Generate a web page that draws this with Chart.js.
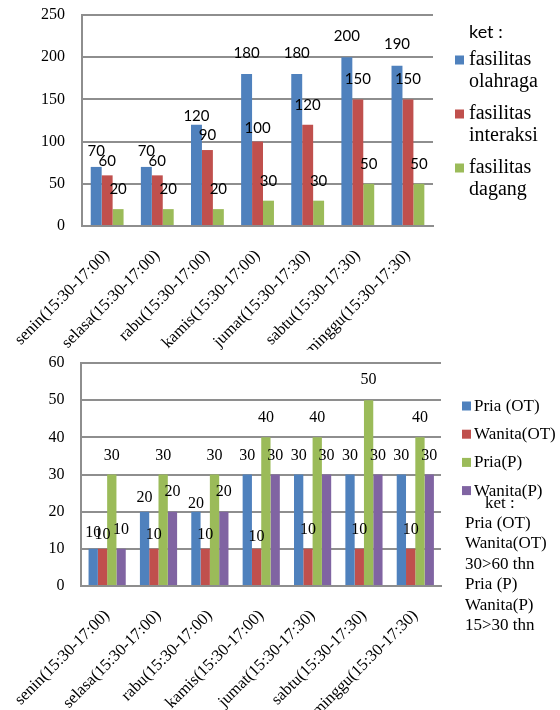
<!DOCTYPE html>
<html>
<head>
<meta charset="utf-8">
<script src="https://cdn.jsdelivr.net/npm/chart.js@4/dist/chart.umd.min.js"></script>
<style>
  html, body { margin: 0; padding: 0; background: #fff; }
  #wrap { position: relative; width: 560px; height: 710px; overflow: hidden; }
  .box { position: absolute; left: 0; width: 560px; }
  #b1 { top: 0; height: 350px; }
  #b2 { top: 350px; height: 360px; }
</style>
</head>
<body>
<div id="wrap">
  <div class="box" id="b1"><canvas id="c1" width="560" height="350"></canvas></div>
  <div class="box" id="b2"><canvas id="c2" width="560" height="360"></canvas></div>
</div>
<script>
// Days observed (same for both charts)
const days = [
  'senin(15:30-17:00)', 'selasa(15:30-17:00)', 'rabu(15:30-17:00)',
  'kamis(15:30-17:00)', 'jumat(15:30-17:30)', 'sabtu(15:30-17:30)',
  'minggu(15:30-17:30)'
];

// Chart 1: use of facilities
const olahraga  = [70, 70, 120, 180, 180, 200, 190];
const interaksi = [60, 60, 90, 100, 120, 150, 150];
const dagang    = [20, 20, 20, 30, 30, 50, 50];
const topTicks  = [0, 50, 100, 150, 200, 250];

// Chart 2: visitors by group
const priaOT    = [10, 20, 20, 30, 30, 30, 30];
const wanitaOT  = [10, 10, 10, 10, 10, 10, 10];
const priaP     = [30, 30, 30, 40, 40, 50, 40];
const wanitaP   = [10, 20, 20, 30, 30, 30, 30];
const bottomTicks = [0, 10, 20, 30, 40, 50, 60];

// Legend texts
const topLegendTitle = 'ket :';
const topLegendItems = [['fasilitas', 'olahraga'], ['fasilitas', 'interaksi'], ['fasilitas', 'dagang']];
const bottomLegendItems = ['Pria (OT)', 'Wanita(OT)', 'Pria(P)', 'Wanita(P)'];
const bottomNoteTitle = 'ket :';
const bottomNoteLines = ['Pria (OT)', 'Wanita(OT)', '30>60 thn', 'Pria (P)', 'Wanita(P)', '15>30 thn'];

const BLUE = '#4F81BD', RED = '#C0504D', GREEN = '#9BBB59', PURPLE = '#8064A2';
const GRID = '#8e8e8e';
const SERIF = '"Liberation Serif", "Times New Roman", serif';
const SANS = 'Lato, "Open Sans", sans-serif';

// How far each value label sits above its bar top (px)
const topLift = [
  [16, 16, 9, 21, 21, 21, 21],
  [14, 14, 15, 13, 20, 20, 20],
  [20, 20, 20, 20, 20, 20, 20]
];
const bottomLift = [
  [16, 14, 8, 19, 19, 19, 19],
  [14, 14, 14, 12, 19, 19, 19],
  [19, 19, 19, 20, 20, 20, 20],
  [19, 20, 20, 19, 19, 19, 19]
];

// Writes each bar's value above it
const valueLabels = {
  id: 'valueLabels',
  afterDatasetsDraw(chart, args, opts) {
    const ctx = chart.ctx;
    ctx.save();
    ctx.font = opts.font;
    ctx.fillStyle = '#000';
    ctx.textAlign = 'center';
    ctx.textBaseline = 'middle';
    chart.data.datasets.forEach((ds, di) => {
      chart.getDatasetMeta(di).data.forEach((bar, i) => {
        ctx.fillText(String(ds.data[i]), bar.x, bar.y - opts.lift[di][i]);
      });
    });
    ctx.restore();
  }
};

// Side legend with coloured squares and free text notes
const sideLegend = {
  id: 'sideLegend',
  afterDraw(chart, args, o) {
    const ctx = chart.ctx;
    ctx.save();
    ctx.fillStyle = '#000';
    ctx.textAlign = 'left';
    ctx.textBaseline = 'alphabetic';
    if (o.title) {
      ctx.font = o.titleFont;
      ctx.fillText(o.title, o.titleX, o.titleY);
    }
    chart.data.datasets.forEach((ds, i) => {
      const base = o.firstY + i * o.step;
      ctx.fillStyle = ds.backgroundColor;
      ctx.fillRect(o.boxX, base - o.boxOffset - o.box / 2, o.box, o.box);
      ctx.fillStyle = '#000';
      ctx.font = o.font;
      const lines = Array.isArray(o.items[i]) ? o.items[i] : [o.items[i]];
      lines.forEach((t, k) => ctx.fillText(t, o.textX, base + k * o.lineH));
    });
    if (o.notes) {
      ctx.font = o.noteTitleFont;
      ctx.fillText(o.noteTitle, o.noteTitleX, o.noteTitleY);
      ctx.font = o.noteFont;
      o.notes.forEach((t, k) => ctx.fillText(t, o.noteX, o.noteY + k * o.noteLineH));
    }
    ctx.restore();
  }
};

function makeScales(ticks, xHeight) {
  return {
    x: {
      grid: { display: false },
      border: { color: GRID, width: 2 },
      ticks: {
        color: '#000',
        font: { family: SERIF, size: 16.5 },
        minRotation: 45, maxRotation: 45,
        autoSkip: false,
        padding: 12
      },
      afterFit(s) { s.height = xHeight; }
    },
    y: {
      min: ticks[0], max: ticks[ticks.length - 1],
      afterBuildTicks(s) { s.ticks = ticks.map(v => ({ value: v })); },
      grid: { color: GRID, lineWidth: 2, drawTicks: false },
      border: { color: GRID, width: 2 },
      ticks: {
        color: '#000',
        font: { family: SERIF, size: 16 },
        padding: 17
      },
      afterFit(s) {
        s.width = 80;
        // the plot top is set by the layout padding alone
        s.paddingTop = 0;
        s.paddingBottom = 0;
      }
    }
  };
}

Chart.defaults.animation = false;

new Chart(document.getElementById('c1'), {
  type: 'bar',
  data: {
    labels: days,
    datasets: [
      { label: 'fasilitas olahraga', data: olahraga, backgroundColor: BLUE },
      { label: 'fasilitas interaksi', data: interaksi, backgroundColor: RED },
      { label: 'fasilitas dagang', data: dagang, backgroundColor: GREEN }
    ]
  },
  options: {
    responsive: false,
    devicePixelRatio: 1,
    layout: { padding: { left: 0, right: 127, top: 15, bottom: 0 } },
    datasets: { bar: { barPercentage: 1, categoryPercentage: 0.655 } },
    scales: makeScales(topTicks, 124),
    plugins: {
      legend: { display: false },
      tooltip: { enabled: false },
      valueLabels: { font: '15px ' + SANS, lift: topLift },
      sideLegend: {
        title: topLegendTitle, titleFont: '18px ' + SANS, titleX: 469, titleY: 38,
        items: topLegendItems, font: '20px ' + SERIF,
        boxX: 455, box: 9, boxOffset: 5,
        textX: 469, firstY: 65, step: 54, lineH: 21.5
      }
    }
  },
  plugins: [valueLabels, sideLegend]
});

new Chart(document.getElementById('c2'), {
  type: 'bar',
  data: {
    labels: days,
    datasets: [
      { label: 'Pria (OT)', data: priaOT, backgroundColor: BLUE },
      { label: 'Wanita(OT)', data: wanitaOT, backgroundColor: RED },
      { label: 'Pria(P)', data: priaP, backgroundColor: GREEN },
      { label: 'Wanita(P)', data: wanitaP, backgroundColor: PURPLE }
    ]
  },
  options: {
    responsive: false,
    devicePixelRatio: 1,
    layout: { padding: { left: 0, right: 119, top: 13, bottom: 0 } },
    datasets: { bar: { barPercentage: 1, categoryPercentage: 0.724 } },
    scales: makeScales(bottomTicks, 124),
    plugins: {
      legend: { display: false },
      tooltip: { enabled: false },
      valueLabels: { font: '16px ' + SERIF, lift: bottomLift },
      sideLegend: {
        items: bottomLegendItems, font: '17px ' + SERIF,
        boxX: 462, box: 9, boxOffset: 5,
        textX: 474, firstY: 61, step: 28.2, lineH: 0,
        noteTitle: bottomNoteTitle, noteTitleFont: '17px ' + SERIF, noteTitleX: 485, noteTitleY: 157.5,
        notes: bottomNoteLines, noteFont: '17px ' + SERIF, noteX: 465, noteY: 177.5, noteLineH: 20.5
      }
    }
  },
  plugins: [valueLabels, sideLegend]
});
</script>
</body>
</html>
